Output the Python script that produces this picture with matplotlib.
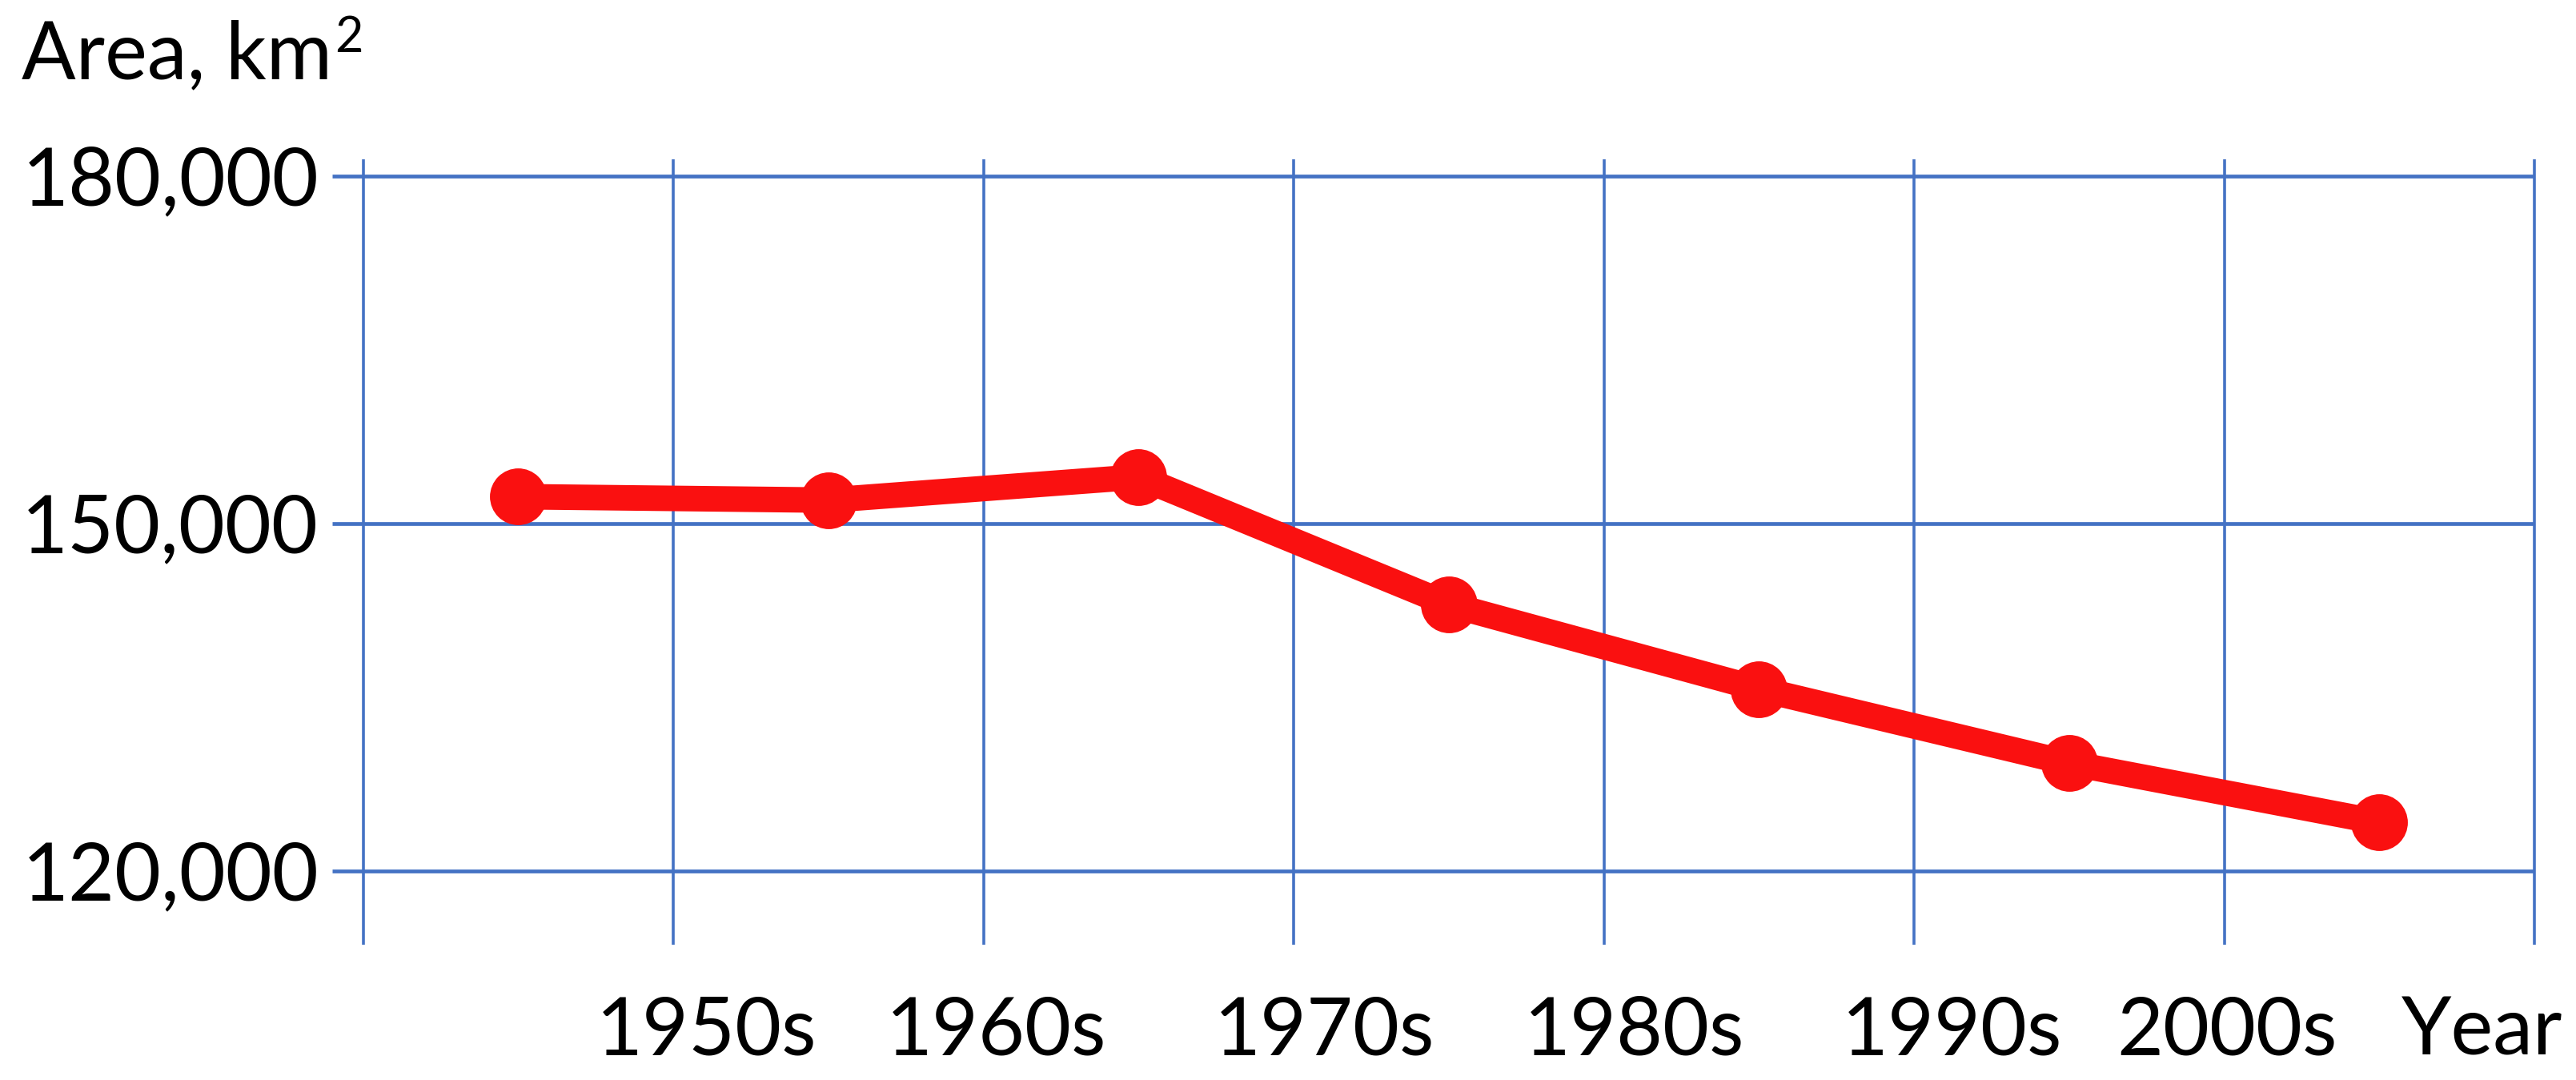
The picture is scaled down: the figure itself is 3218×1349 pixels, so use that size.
import matplotlib
matplotlib.use("Agg")
import matplotlib.pyplot as plt

# decade data (points sit midway between grid lines)
decades = ["1950s", "1960s", "1970s", "1980s", "1990s", "2000s"]
x_points = [0.5, 1.5, 2.5, 3.5, 4.5, 5.5, 6.5]
area_km2 = [152300, 152000, 154000, 143000, 135700, 129300, 124200]
y_ticks = [120000, 150000, 180000]

# label spots along x (the original labels are not exactly on the grid lines)
label_x = [1.106, 2.041, 3.098, 4.098, 5.122, 6.01, 6.83]

plt.rcParams['font.family'] = ['Lato', 'DejaVu Sans']

fig = plt.figure(figsize=(32.18, 13.49), dpi=100)
ax = fig.add_axes([0.1289, 0.0865, 0.867, 0.8043])

blue = '#4472C4'
red = '#FA1010'

# grid drawn by hand so the lines can stick out like ticks
ax.hlines(y_ticks, -0.1, 7, color=blue, lw=3.4, zorder=1)
ax.vlines(range(8), 113600, 181400, color=blue, lw=2.6, zorder=1)

ax.plot(x_points, area_km2, color=red, lw=23, marker='o', ms=50,
        solid_joinstyle='round', zorder=3)

ax.set_xlim(-0.1, 7.1)
ax.set_ylim(110000, 185000)

ax.set_yticks(y_ticks)
ax.set_yticklabels([f"{v:,}" for v in y_ticks], fontsize=72)
ax.set_xticks(label_x)
ax.set_xticklabels(decades + ["Year"], fontsize=72)
ax.tick_params(length=0, colors='black')
ax.tick_params(axis='y', pad=12)
ax.tick_params(axis='x', pad=8)

for s in ax.spines.values():
    s.set_visible(False)

lbl = fig.text(0.0085, 0.927, "Area, km", fontsize=72, ha='left', va='baseline')
ax.annotate("2", xy=(1, 1), xycoords=lbl, xytext=(2, 4), textcoords='offset points',
            fontsize=44, ha='left', va='top')

fig.savefig("out.png", dpi=100)
